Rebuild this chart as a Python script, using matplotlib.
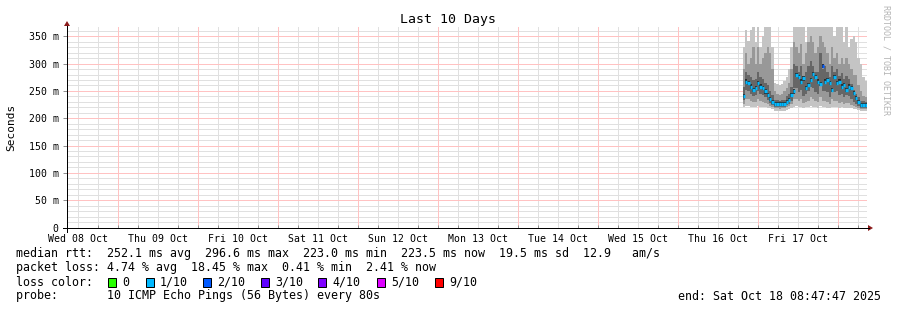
import matplotlib
matplotlib.use("Agg")
import matplotlib.pyplot as plt
import matplotlib.dates as mdates
import numpy as np
import pandas as pd

# ---------------- data ----------------
end_time = pd.Timestamp("2025-10-18 08:47:47")
start_time = end_time - pd.Timedelta(days=10)
data_start = pd.Timestamp("2025-10-16 19:30:00")
step_minutes = 43

median = [241, 267, 265, 258, 252, 255, 265, 258, 255, 249, 243, 235, 230,
          226, 226, 226, 226, 226, 230, 233, 243,
          249, 279, 276, 267, 273, 255, 261, 270, 281, 276, 267, 263, 296, 267, 270, 265, 252, 276, 265, 267, 258, 261, 252, 258, 255,
          246, 237, 230, 224, 224, 224]
hi_max = [330, 362, 341, 362, 368, 340, 368, 330, 350, 368, 368, 368, 330,
          265, 262, 260, 262, 268, 275, 290, 330,
          368, 368, 368, 368, 368, 340, 368, 368, 368, 368, 368, 368, 368, 368, 368, 368, 368, 350, 368, 368, 368, 340, 368, 330, 345,
          350, 340, 310, 300, 275, 268]
hi_mid = [290, 320, 300, 310, 330, 300, 330, 300, 310, 320, 330, 320, 290,
          250, 245, 242, 244, 250, 255, 265, 290,
          340, 330, 320, 335, 300, 320, 340, 350, 340, 320, 330, 350, 340, 330, 320, 300, 330, 310, 320, 300, 310, 300, 310, 300, 290,
          280, 280, 260, 250, 240, 238]
hi_in = [258, 285, 280, 275, 270, 272, 285, 275, 272, 265, 260, 250, 242,
         234, 233, 232, 233, 234, 240, 244, 258,
         300, 295, 285, 295, 275, 285, 295, 305, 295, 285, 285, 320, 290, 295, 285, 275, 295, 285, 290, 278, 282, 272, 278, 272, 262,
         252, 245, 238, 232, 231, 230]
lo_in = [234, 252, 250, 245, 240, 242, 250, 245, 242, 238, 234, 228, 224,
         221, 221, 220, 221, 221, 224, 226, 232,
         255, 255, 248, 252, 240, 245, 250, 258, 255, 248, 245, 260, 250, 250, 248, 238, 255, 248, 250, 242, 245, 238, 242, 240, 235,
         230, 226, 223, 219, 219, 219]
lo_mid = [226, 236, 235, 232, 230, 230, 235, 232, 230, 228, 226, 223, 221,
          218, 218, 217, 218, 218, 220, 222, 226,
          235, 235, 232, 235, 228, 230, 232, 238, 235, 232, 230, 238, 232, 232, 230, 226, 235, 232, 232, 228, 230, 226, 228, 228, 225,
          223, 221, 219, 217, 217, 217]
lo_min = [220, 222, 222, 221, 220, 220, 222, 221, 220, 220, 219, 218, 216,
          214, 213, 213, 213, 214, 215, 216, 218,
          220, 222, 220, 221, 219, 220, 221, 222, 221, 220, 219, 222, 220, 220, 219, 218, 221, 220, 220, 219, 220, 218, 219, 219, 218,
          217, 216, 215, 214, 214, 214]
loss_pct = [5, 6, 4, 5, 3, 4, 6, 5, 4, 3, 4, 2, 3,
            2, 1, 2, 1, 2, 3, 4, 5,
            6, 8, 7, 5, 6, 4, 5, 7, 9, 6, 5, 6, 18.45, 6, 5, 4, 5, 7, 6, 5, 4, 5, 3, 4, 5,
            3, 2, 3, 2, 2, 2.41]

loss_labels = ["0", "1/10", "2/10", "3/10", "4/10", "5/10", "9/10"]
loss_colors = ["#26ff00", "#00b8ff", "#0059ff", "#5e00ff", "#7e00ff", "#dd00ff", "#ff0000"]
loss_thresholds = [0, 10, 20, 30, 40, 50, 90]

y_ticks = [0, 50, 100, 150, 200, 250, 300, 350]
y_tick_labels = ["0", "50 m", "100 m", "150 m", "200 m", "250 m", "300 m", "350 m"]

legend_lines = [
    "median rtt:  252.1 ms avg  296.6 ms max  223.0 ms min  223.5 ms now  19.5 ms sd  12.9   am/s",
    "packet loss: 4.74 % avg  18.45 % max  0.41 % min  2.41 % now",
]
probe_text = "probe:       10 ICMP Echo Pings (56 Bytes) every 80s"
end_text = "end: Sat Oct 18 08:47:47 2025"
title = "Last 10 Days"
ylabel = "Seconds"
watermark = "RRDTOOL / TOBI OETIKER"

# ---------------- figure ----------------
W, H = 897, 310
fig = plt.figure(figsize=(W / 100, H / 100), dpi=100)
fig.patch.set_facecolor("white")
mono = "DejaVu Sans Mono"

ax = fig.add_axes([67 / W, (H - 227.5) / H, 800 / W, 200.5 / H])
ax.set_facecolor("white")
ax.set_xlim(mdates.date2num(start_time), mdates.date2num(end_time))
ax.set_ylim(0, 367)

# grid (dotted in the original; drawn as light thin lines of the blended tone)
px = 0.72
hours6 = pd.date_range(start_time.ceil("6h"), end_time, freq="6h")
minor_c, major_c = "#e0e0e0", "#ffc2c2"
grid_kw = dict(lw=px, antialiased=False)
for t in hours6:
    if t.hour != 0:
        ax.axvline(mdates.date2num(t), color=minor_c, zorder=1, **grid_kw)
for yv in range(10, 367, 10):
    if yv % 50:
        ax.axhline(yv, color=minor_c, zorder=1, **grid_kw)
for t in hours6:
    if t.hour == 0:
        ax.axvline(mdates.date2num(t), color=major_c, zorder=1.1, **grid_kw)
for yv in y_ticks[1:]:
    ax.axhline(yv, color=major_c, zorder=1.1, **grid_kw)

# smoke
n = len(median)
times = pd.date_range(data_start, periods=n + 1, freq=f"{step_minutes}min")
xe = mdates.date2num(times)
def ext(a):
    return list(a) + [a[-1]]
bands = [
    (lo_min, hi_max, "#c4c4c4"),
    (lo_mid, hi_mid, "#989898"),
    (lo_in, hi_in, "#666666"),
]
for lo, hi, c in bands:
    ax.fill_between(xe, ext(lo), ext(hi), step="post", color=c, lw=0, zorder=2)
core_lo = [m - 4 for m in median]
core_hi = [m + 4 for m in median]
ax.fill_between(xe, ext(core_lo), ext(core_hi), step="post", color="#2c2c2c", lw=0, zorder=2.5)

# median colored by loss
def loss_color(l):
    if l <= 0:
        return loss_colors[0]
    for thr, c in zip(loss_thresholds[1:], loss_colors[1:]):
        if l <= thr:
            return c
    return loss_colors[-1]
for i in range(n):
    ax.plot([xe[i], xe[i + 1]], [median[i], median[i]], color=loss_color(loss_pct[i]),
            lw=2.4, solid_capstyle="butt", zorder=3)

# axes styling
for s in ax.spines.values():
    s.set_visible(False)
ax.set_yticks(y_ticks)
ax.set_yticklabels(y_tick_labels, family=mono, fontsize=7.1)
ax.tick_params(axis="y", length=3, width=px, color="#909090", pad=3)
noons = [t for t in pd.date_range(start_time.floor("D") + pd.Timedelta(hours=12), end_time, freq="D")
         if start_time <= t <= end_time]
ax.set_xticks([mdates.date2num(t) for t in noons])
ax.set_xticklabels([t.strftime("%a %d %b") for t in noons], family=mono, fontsize=7.1)
ax.tick_params(axis="x", length=0, pad=4.5)
ax.set_xticks([mdates.date2num(t) for t in hours6], minor=True)
ax.tick_params(axis="x", which="minor", length=2, width=px, color="#909090", direction="in")

# axis lines with arrows (figure coords)
def fx(p):
    return p / W
def fy(p):
    return 1 - p / H
fig.add_artist(plt.Line2D([fx(63), fx(869)], [fy(228), fy(228)], color="black", lw=px))
fig.add_artist(plt.Line2D([fx(67), fx(67)], [fy(232), fy(26)], color="black", lw=px))
fig.add_artist(plt.Polygon([[fx(868), fy(225)], [fx(873), fy(228)], [fx(868), fy(231)]],
                           closed=True, color="#8b1a1a", lw=0))
fig.add_artist(plt.Polygon([[fx(64), fy(26)], [fx(67), fy(21)], [fx(70), fy(26)]],
                           closed=True, color="#8b1a1a", lw=0))

# texts
fig.text(fx(448), fy(19), title, family=mono, fontsize=9.5, ha="center", va="center")
fig.text(fx(11), fy(127), ylabel, family=mono, fontsize=8, rotation=90, ha="center", va="center")
fig.text(fx(886), fy(5), watermark, family=mono, fontsize=6.0, rotation=-90, ha="center", va="top",
         color="#b4b4b4")

lx = 16
fs = 8.4
fig.text(fx(lx), fy(254), legend_lines[0], family=mono, fontsize=fs, va="center")
fig.text(fx(lx), fy(268), legend_lines[1], family=mono, fontsize=fs, va="center")
fig.text(fx(lx), fy(282), "loss color:", family=mono, fontsize=fs, va="center")
box_xs = [108, 146, 203, 261, 318, 377, 435]
for bx, lab, c in zip(box_xs, loss_labels, loss_colors):
    fig.add_artist(plt.Rectangle((fx(bx), fy(287)), 8 / W, 9 / H, facecolor=c,
                                 edgecolor="black", lw=px))
    fig.text(fx(bx + 14), fy(282), lab, family=mono, fontsize=fs, va="center")
fig.text(fx(lx), fy(296), probe_text, family=mono, fontsize=fs, va="center")
fig.text(fx(881), fy(296), end_text, family=mono, fontsize=fs, va="center", ha="right")

fig.savefig("out.png", dpi=100, facecolor="white")
